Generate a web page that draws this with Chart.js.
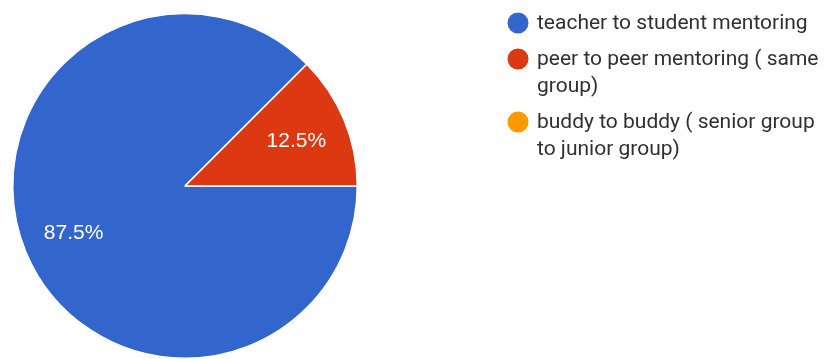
<!DOCTYPE html>
<html>
<head>
<meta charset="utf-8">
<script src="https://cdn.jsdelivr.net/npm/chart.js@4.4.0/dist/chart.umd.min.js"></script>
<style>
html,body{margin:0;padding:0;background:#fff;}
#wrap{width:825px;height:359px;position:relative;}
</style>
</head>
<body>
<div id="wrap"><canvas id="c" width="825" height="359"></canvas></div>
<script>
const categories = ["teacher to student mentoring", "peer to peer mentoring ( same group)", "buddy to buddy ( senior group to junior group)"];
const legendLines = [["teacher to student mentoring"], ["peer to peer mentoring ( same", "group)"], ["buddy to buddy ( senior group", "to junior group)"]];
const values = [87.5, 12.5, 0];
const colors = ["#3366cc", "#dc3912", "#ff9900"];

const LEGEND_FONT = "Roboto, 'Noto Sans', Arial, sans-serif";
const LABEL_FONT = "'Liberation Sans', Arial, sans-serif";

const sliceLabels = {
  id: 'sliceLabels',
  afterDatasetsDraw(chart) {
    const ctx = chart.ctx;
    const meta = chart.getDatasetMeta(0);
    const total = values.reduce((a, b) => a + b, 0);
    ctx.save();
    ctx.fillStyle = '#ffffff';
    ctx.font = '21px ' + LABEL_FONT;
    ctx.textAlign = 'center';
    ctx.textBaseline = 'middle';
    meta.data.forEach((arc, i) => {
      if (!values[i]) return;
      const p = arc.getProps(['x', 'y', 'startAngle', 'endAngle', 'outerRadius'], true);
      const mid = (p.startAngle + p.endAngle) / 2;
      const r = p.outerRadius * 0.70;
      const pct = (values[i] / total * 100).toFixed(1) + '%';
      ctx.fillText(pct, p.x + Math.cos(mid) * r, p.y + Math.sin(mid) * r + 1);
    });
    ctx.restore();
  }
};

const customLegend = {
  id: 'customLegend',
  afterDraw(chart) {
    const ctx = chart.ctx;
    ctx.save();
    ctx.font = '21px ' + LEGEND_FONT;
    ctx.textBaseline = 'middle';
    ctx.textAlign = 'left';
    let y = 23;
    const lineH = 27, itemGap = 36;
    legendLines.forEach((lines, i) => {
      ctx.fillStyle = colors[i];
      ctx.beginPath();
      ctx.arc(518, y, 10.5, 0, Math.PI * 2);
      ctx.fill();
      ctx.fillStyle = '#303030';
      lines.forEach((t, j) => {
        ctx.fillText(t, 537, y + j * lineH + 1);
      });
      y += (lines.length - 1) * lineH + itemGap;
    });
    ctx.restore();
  }
};

new Chart(document.getElementById('c'), {
  type: 'pie',
  data: {
    labels: categories,
    datasets: [{
      data: values,
      backgroundColor: colors,
      borderColor: '#ffffff',
      borderWidth: 1.5
    }]
  },
  options: {
    responsive: false,
    animation: false,
    rotation: 90,
    layout: { padding: { left: 12, right: 467, top: 13, bottom: 0 } },
    plugins: {
      legend: { display: false },
      tooltip: { enabled: false }
    }
  },
  plugins: [sliceLabels, customLegend]
});
</script>
</body>
</html>
